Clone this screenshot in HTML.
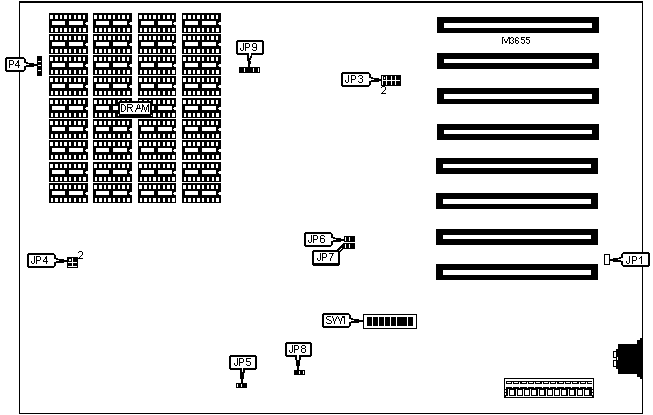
<!DOCTYPE html>
<html><head><meta charset="utf-8"><style>
html,body{margin:0;padding:0;background:#fff;width:653px;height:415px;overflow:hidden}
svg{display:block}
</style></head><body>
<svg width="653" height="415" viewBox="0 0 653 415" shape-rendering="crispEdges">
<rect x="19" y="1" width="624" height="2" fill="#000"/>
<rect x="19" y="1" width="1" height="413" fill="#000"/>
<rect x="642" y="1" width="1" height="413" fill="#000"/>
<rect x="19" y="413" width="624" height="1" fill="#000"/>
<rect x="437" y="17" width="162" height="16" fill="#000"/>
<rect x="444" y="23" width="148" height="5" fill="#fff"/>
<rect x="437" y="53" width="162" height="16" fill="#000"/>
<rect x="444" y="59" width="148" height="4" fill="#fff"/>
<rect x="437" y="88" width="162" height="16" fill="#000"/>
<rect x="444" y="94" width="148" height="5" fill="#fff"/>
<rect x="437" y="124" width="162" height="16" fill="#000"/>
<rect x="444" y="130" width="148" height="4" fill="#fff"/>
<rect x="436" y="158" width="162" height="16" fill="#000"/>
<rect x="443" y="164" width="148" height="4" fill="#fff"/>
<rect x="436" y="193" width="162" height="16" fill="#000"/>
<rect x="443" y="199" width="148" height="5" fill="#fff"/>
<rect x="436" y="229" width="162" height="16" fill="#000"/>
<rect x="443" y="235" width="148" height="4" fill="#fff"/>
<rect x="436" y="264" width="162" height="16" fill="#000"/>
<rect x="443" y="270" width="148" height="5" fill="#fff"/>
<rect x="49" y="13" width="39" height="20" fill="#000"/>
<rect x="50" y="15" width="3" height="4" fill="#fff"/>
<rect x="55" y="15" width="3" height="4" fill="#fff"/>
<rect x="60" y="15" width="2" height="4" fill="#fff"/>
<rect x="64" y="15" width="3" height="4" fill="#fff"/>
<rect x="69" y="15" width="2" height="4" fill="#fff"/>
<rect x="74" y="15" width="2" height="4" fill="#fff"/>
<rect x="78" y="15" width="3" height="4" fill="#fff"/>
<rect x="83" y="15" width="2" height="4" fill="#fff"/>
<rect x="51" y="28" width="2" height="4" fill="#fff"/>
<rect x="55" y="28" width="3" height="4" fill="#fff"/>
<rect x="60" y="28" width="2" height="4" fill="#fff"/>
<rect x="64" y="28" width="3" height="4" fill="#fff"/>
<rect x="69" y="28" width="2" height="4" fill="#fff"/>
<rect x="74" y="28" width="2" height="4" fill="#fff"/>
<rect x="79" y="28" width="2" height="4" fill="#fff"/>
<rect x="83" y="28" width="3" height="4" fill="#fff"/>
<rect x="52" y="21" width="13" height="4" fill="#fff"/>
<rect x="69" y="21" width="14" height="4" fill="#fff"/>
<rect x="86" y="22" width="2" height="3" fill="#fff"/>
<rect x="85" y="23" width="1" height="1" fill="#fff"/>
<rect x="49" y="34" width="39" height="20" fill="#000"/>
<rect x="50" y="36" width="3" height="4" fill="#fff"/>
<rect x="55" y="36" width="3" height="4" fill="#fff"/>
<rect x="60" y="36" width="2" height="4" fill="#fff"/>
<rect x="64" y="36" width="3" height="4" fill="#fff"/>
<rect x="69" y="36" width="2" height="4" fill="#fff"/>
<rect x="74" y="36" width="2" height="4" fill="#fff"/>
<rect x="78" y="36" width="3" height="4" fill="#fff"/>
<rect x="83" y="36" width="2" height="4" fill="#fff"/>
<rect x="51" y="49" width="2" height="4" fill="#fff"/>
<rect x="55" y="49" width="3" height="4" fill="#fff"/>
<rect x="60" y="49" width="2" height="4" fill="#fff"/>
<rect x="64" y="49" width="3" height="4" fill="#fff"/>
<rect x="69" y="49" width="2" height="4" fill="#fff"/>
<rect x="74" y="49" width="2" height="4" fill="#fff"/>
<rect x="79" y="49" width="2" height="4" fill="#fff"/>
<rect x="83" y="49" width="3" height="4" fill="#fff"/>
<rect x="52" y="42" width="13" height="4" fill="#fff"/>
<rect x="69" y="42" width="14" height="4" fill="#fff"/>
<rect x="86" y="43" width="2" height="3" fill="#fff"/>
<rect x="85" y="44" width="1" height="1" fill="#fff"/>
<rect x="49" y="55" width="39" height="20" fill="#000"/>
<rect x="50" y="57" width="3" height="4" fill="#fff"/>
<rect x="55" y="57" width="3" height="4" fill="#fff"/>
<rect x="60" y="57" width="2" height="4" fill="#fff"/>
<rect x="64" y="57" width="3" height="4" fill="#fff"/>
<rect x="69" y="57" width="2" height="4" fill="#fff"/>
<rect x="74" y="57" width="2" height="4" fill="#fff"/>
<rect x="78" y="57" width="3" height="4" fill="#fff"/>
<rect x="83" y="57" width="2" height="4" fill="#fff"/>
<rect x="51" y="70" width="2" height="4" fill="#fff"/>
<rect x="55" y="70" width="3" height="4" fill="#fff"/>
<rect x="60" y="70" width="2" height="4" fill="#fff"/>
<rect x="64" y="70" width="3" height="4" fill="#fff"/>
<rect x="69" y="70" width="2" height="4" fill="#fff"/>
<rect x="74" y="70" width="2" height="4" fill="#fff"/>
<rect x="79" y="70" width="2" height="4" fill="#fff"/>
<rect x="83" y="70" width="3" height="4" fill="#fff"/>
<rect x="52" y="63" width="13" height="4" fill="#fff"/>
<rect x="69" y="63" width="14" height="4" fill="#fff"/>
<rect x="86" y="64" width="2" height="3" fill="#fff"/>
<rect x="85" y="65" width="1" height="1" fill="#fff"/>
<rect x="49" y="76" width="39" height="20" fill="#000"/>
<rect x="50" y="78" width="3" height="4" fill="#fff"/>
<rect x="55" y="78" width="3" height="4" fill="#fff"/>
<rect x="60" y="78" width="2" height="4" fill="#fff"/>
<rect x="64" y="78" width="3" height="4" fill="#fff"/>
<rect x="69" y="78" width="2" height="4" fill="#fff"/>
<rect x="74" y="78" width="2" height="4" fill="#fff"/>
<rect x="78" y="78" width="3" height="4" fill="#fff"/>
<rect x="83" y="78" width="2" height="4" fill="#fff"/>
<rect x="51" y="91" width="2" height="4" fill="#fff"/>
<rect x="55" y="91" width="3" height="4" fill="#fff"/>
<rect x="60" y="91" width="2" height="4" fill="#fff"/>
<rect x="64" y="91" width="3" height="4" fill="#fff"/>
<rect x="69" y="91" width="2" height="4" fill="#fff"/>
<rect x="74" y="91" width="2" height="4" fill="#fff"/>
<rect x="79" y="91" width="2" height="4" fill="#fff"/>
<rect x="83" y="91" width="3" height="4" fill="#fff"/>
<rect x="52" y="84" width="13" height="4" fill="#fff"/>
<rect x="69" y="84" width="14" height="4" fill="#fff"/>
<rect x="86" y="85" width="2" height="3" fill="#fff"/>
<rect x="85" y="86" width="1" height="1" fill="#fff"/>
<rect x="49" y="98" width="39" height="20" fill="#000"/>
<rect x="50" y="100" width="3" height="4" fill="#fff"/>
<rect x="55" y="100" width="3" height="4" fill="#fff"/>
<rect x="60" y="100" width="2" height="4" fill="#fff"/>
<rect x="64" y="100" width="3" height="4" fill="#fff"/>
<rect x="69" y="100" width="2" height="4" fill="#fff"/>
<rect x="74" y="100" width="2" height="4" fill="#fff"/>
<rect x="78" y="100" width="3" height="4" fill="#fff"/>
<rect x="83" y="100" width="2" height="4" fill="#fff"/>
<rect x="51" y="113" width="2" height="4" fill="#fff"/>
<rect x="55" y="113" width="3" height="4" fill="#fff"/>
<rect x="60" y="113" width="2" height="4" fill="#fff"/>
<rect x="64" y="113" width="3" height="4" fill="#fff"/>
<rect x="69" y="113" width="2" height="4" fill="#fff"/>
<rect x="74" y="113" width="2" height="4" fill="#fff"/>
<rect x="79" y="113" width="2" height="4" fill="#fff"/>
<rect x="83" y="113" width="3" height="4" fill="#fff"/>
<rect x="52" y="106" width="13" height="4" fill="#fff"/>
<rect x="69" y="106" width="14" height="4" fill="#fff"/>
<rect x="86" y="107" width="2" height="3" fill="#fff"/>
<rect x="85" y="108" width="1" height="1" fill="#fff"/>
<rect x="49" y="119" width="39" height="20" fill="#000"/>
<rect x="50" y="121" width="3" height="4" fill="#fff"/>
<rect x="55" y="121" width="3" height="4" fill="#fff"/>
<rect x="60" y="121" width="2" height="4" fill="#fff"/>
<rect x="64" y="121" width="3" height="4" fill="#fff"/>
<rect x="69" y="121" width="2" height="4" fill="#fff"/>
<rect x="74" y="121" width="2" height="4" fill="#fff"/>
<rect x="78" y="121" width="3" height="4" fill="#fff"/>
<rect x="83" y="121" width="2" height="4" fill="#fff"/>
<rect x="51" y="134" width="2" height="4" fill="#fff"/>
<rect x="55" y="134" width="3" height="4" fill="#fff"/>
<rect x="60" y="134" width="2" height="4" fill="#fff"/>
<rect x="64" y="134" width="3" height="4" fill="#fff"/>
<rect x="69" y="134" width="2" height="4" fill="#fff"/>
<rect x="74" y="134" width="2" height="4" fill="#fff"/>
<rect x="79" y="134" width="2" height="4" fill="#fff"/>
<rect x="83" y="134" width="3" height="4" fill="#fff"/>
<rect x="52" y="127" width="13" height="4" fill="#fff"/>
<rect x="69" y="127" width="14" height="4" fill="#fff"/>
<rect x="86" y="128" width="2" height="3" fill="#fff"/>
<rect x="85" y="129" width="1" height="1" fill="#fff"/>
<rect x="49" y="140" width="39" height="20" fill="#000"/>
<rect x="50" y="142" width="3" height="4" fill="#fff"/>
<rect x="55" y="142" width="3" height="4" fill="#fff"/>
<rect x="60" y="142" width="2" height="4" fill="#fff"/>
<rect x="64" y="142" width="3" height="4" fill="#fff"/>
<rect x="69" y="142" width="2" height="4" fill="#fff"/>
<rect x="74" y="142" width="2" height="4" fill="#fff"/>
<rect x="78" y="142" width="3" height="4" fill="#fff"/>
<rect x="83" y="142" width="2" height="4" fill="#fff"/>
<rect x="51" y="155" width="2" height="4" fill="#fff"/>
<rect x="55" y="155" width="3" height="4" fill="#fff"/>
<rect x="60" y="155" width="2" height="4" fill="#fff"/>
<rect x="64" y="155" width="3" height="4" fill="#fff"/>
<rect x="69" y="155" width="2" height="4" fill="#fff"/>
<rect x="74" y="155" width="2" height="4" fill="#fff"/>
<rect x="79" y="155" width="2" height="4" fill="#fff"/>
<rect x="83" y="155" width="3" height="4" fill="#fff"/>
<rect x="52" y="148" width="13" height="4" fill="#fff"/>
<rect x="69" y="148" width="14" height="4" fill="#fff"/>
<rect x="86" y="149" width="2" height="3" fill="#fff"/>
<rect x="85" y="150" width="1" height="1" fill="#fff"/>
<rect x="49" y="162" width="39" height="20" fill="#000"/>
<rect x="50" y="164" width="3" height="4" fill="#fff"/>
<rect x="55" y="164" width="3" height="4" fill="#fff"/>
<rect x="60" y="164" width="2" height="4" fill="#fff"/>
<rect x="64" y="164" width="3" height="4" fill="#fff"/>
<rect x="69" y="164" width="2" height="4" fill="#fff"/>
<rect x="74" y="164" width="2" height="4" fill="#fff"/>
<rect x="78" y="164" width="3" height="4" fill="#fff"/>
<rect x="83" y="164" width="2" height="4" fill="#fff"/>
<rect x="51" y="177" width="2" height="4" fill="#fff"/>
<rect x="55" y="177" width="3" height="4" fill="#fff"/>
<rect x="60" y="177" width="2" height="4" fill="#fff"/>
<rect x="64" y="177" width="3" height="4" fill="#fff"/>
<rect x="69" y="177" width="2" height="4" fill="#fff"/>
<rect x="74" y="177" width="2" height="4" fill="#fff"/>
<rect x="79" y="177" width="2" height="4" fill="#fff"/>
<rect x="83" y="177" width="3" height="4" fill="#fff"/>
<rect x="52" y="170" width="13" height="4" fill="#fff"/>
<rect x="69" y="170" width="14" height="4" fill="#fff"/>
<rect x="86" y="171" width="2" height="3" fill="#fff"/>
<rect x="85" y="172" width="1" height="1" fill="#fff"/>
<rect x="49" y="183" width="39" height="20" fill="#000"/>
<rect x="50" y="185" width="3" height="4" fill="#fff"/>
<rect x="55" y="185" width="3" height="4" fill="#fff"/>
<rect x="60" y="185" width="2" height="4" fill="#fff"/>
<rect x="64" y="185" width="3" height="4" fill="#fff"/>
<rect x="69" y="185" width="2" height="4" fill="#fff"/>
<rect x="74" y="185" width="2" height="4" fill="#fff"/>
<rect x="78" y="185" width="3" height="4" fill="#fff"/>
<rect x="83" y="185" width="2" height="4" fill="#fff"/>
<rect x="51" y="198" width="2" height="4" fill="#fff"/>
<rect x="55" y="198" width="3" height="4" fill="#fff"/>
<rect x="60" y="198" width="2" height="4" fill="#fff"/>
<rect x="64" y="198" width="3" height="4" fill="#fff"/>
<rect x="69" y="198" width="2" height="4" fill="#fff"/>
<rect x="74" y="198" width="2" height="4" fill="#fff"/>
<rect x="79" y="198" width="2" height="4" fill="#fff"/>
<rect x="83" y="198" width="3" height="4" fill="#fff"/>
<rect x="52" y="191" width="13" height="4" fill="#fff"/>
<rect x="69" y="191" width="14" height="4" fill="#fff"/>
<rect x="86" y="192" width="2" height="3" fill="#fff"/>
<rect x="85" y="193" width="1" height="1" fill="#fff"/>
<rect x="93" y="13" width="39" height="20" fill="#000"/>
<rect x="94" y="15" width="3" height="4" fill="#fff"/>
<rect x="99" y="15" width="3" height="4" fill="#fff"/>
<rect x="104" y="15" width="2" height="4" fill="#fff"/>
<rect x="108" y="15" width="3" height="4" fill="#fff"/>
<rect x="113" y="15" width="2" height="4" fill="#fff"/>
<rect x="118" y="15" width="2" height="4" fill="#fff"/>
<rect x="122" y="15" width="3" height="4" fill="#fff"/>
<rect x="127" y="15" width="2" height="4" fill="#fff"/>
<rect x="95" y="28" width="2" height="4" fill="#fff"/>
<rect x="99" y="28" width="3" height="4" fill="#fff"/>
<rect x="104" y="28" width="2" height="4" fill="#fff"/>
<rect x="108" y="28" width="3" height="4" fill="#fff"/>
<rect x="113" y="28" width="2" height="4" fill="#fff"/>
<rect x="118" y="28" width="2" height="4" fill="#fff"/>
<rect x="123" y="28" width="2" height="4" fill="#fff"/>
<rect x="127" y="28" width="3" height="4" fill="#fff"/>
<rect x="96" y="21" width="13" height="4" fill="#fff"/>
<rect x="113" y="21" width="14" height="4" fill="#fff"/>
<rect x="130" y="22" width="2" height="3" fill="#fff"/>
<rect x="129" y="23" width="1" height="1" fill="#fff"/>
<rect x="93" y="34" width="39" height="20" fill="#000"/>
<rect x="94" y="36" width="3" height="4" fill="#fff"/>
<rect x="99" y="36" width="3" height="4" fill="#fff"/>
<rect x="104" y="36" width="2" height="4" fill="#fff"/>
<rect x="108" y="36" width="3" height="4" fill="#fff"/>
<rect x="113" y="36" width="2" height="4" fill="#fff"/>
<rect x="118" y="36" width="2" height="4" fill="#fff"/>
<rect x="122" y="36" width="3" height="4" fill="#fff"/>
<rect x="127" y="36" width="2" height="4" fill="#fff"/>
<rect x="95" y="49" width="2" height="4" fill="#fff"/>
<rect x="99" y="49" width="3" height="4" fill="#fff"/>
<rect x="104" y="49" width="2" height="4" fill="#fff"/>
<rect x="108" y="49" width="3" height="4" fill="#fff"/>
<rect x="113" y="49" width="2" height="4" fill="#fff"/>
<rect x="118" y="49" width="2" height="4" fill="#fff"/>
<rect x="123" y="49" width="2" height="4" fill="#fff"/>
<rect x="127" y="49" width="3" height="4" fill="#fff"/>
<rect x="96" y="42" width="13" height="4" fill="#fff"/>
<rect x="113" y="42" width="14" height="4" fill="#fff"/>
<rect x="130" y="43" width="2" height="3" fill="#fff"/>
<rect x="129" y="44" width="1" height="1" fill="#fff"/>
<rect x="93" y="55" width="39" height="20" fill="#000"/>
<rect x="94" y="57" width="3" height="4" fill="#fff"/>
<rect x="99" y="57" width="3" height="4" fill="#fff"/>
<rect x="104" y="57" width="2" height="4" fill="#fff"/>
<rect x="108" y="57" width="3" height="4" fill="#fff"/>
<rect x="113" y="57" width="2" height="4" fill="#fff"/>
<rect x="118" y="57" width="2" height="4" fill="#fff"/>
<rect x="122" y="57" width="3" height="4" fill="#fff"/>
<rect x="127" y="57" width="2" height="4" fill="#fff"/>
<rect x="95" y="70" width="2" height="4" fill="#fff"/>
<rect x="99" y="70" width="3" height="4" fill="#fff"/>
<rect x="104" y="70" width="2" height="4" fill="#fff"/>
<rect x="108" y="70" width="3" height="4" fill="#fff"/>
<rect x="113" y="70" width="2" height="4" fill="#fff"/>
<rect x="118" y="70" width="2" height="4" fill="#fff"/>
<rect x="123" y="70" width="2" height="4" fill="#fff"/>
<rect x="127" y="70" width="3" height="4" fill="#fff"/>
<rect x="96" y="63" width="13" height="4" fill="#fff"/>
<rect x="113" y="63" width="14" height="4" fill="#fff"/>
<rect x="130" y="64" width="2" height="3" fill="#fff"/>
<rect x="129" y="65" width="1" height="1" fill="#fff"/>
<rect x="93" y="76" width="39" height="20" fill="#000"/>
<rect x="94" y="78" width="3" height="4" fill="#fff"/>
<rect x="99" y="78" width="3" height="4" fill="#fff"/>
<rect x="104" y="78" width="2" height="4" fill="#fff"/>
<rect x="108" y="78" width="3" height="4" fill="#fff"/>
<rect x="113" y="78" width="2" height="4" fill="#fff"/>
<rect x="118" y="78" width="2" height="4" fill="#fff"/>
<rect x="122" y="78" width="3" height="4" fill="#fff"/>
<rect x="127" y="78" width="2" height="4" fill="#fff"/>
<rect x="95" y="91" width="2" height="4" fill="#fff"/>
<rect x="99" y="91" width="3" height="4" fill="#fff"/>
<rect x="104" y="91" width="2" height="4" fill="#fff"/>
<rect x="108" y="91" width="3" height="4" fill="#fff"/>
<rect x="113" y="91" width="2" height="4" fill="#fff"/>
<rect x="118" y="91" width="2" height="4" fill="#fff"/>
<rect x="123" y="91" width="2" height="4" fill="#fff"/>
<rect x="127" y="91" width="3" height="4" fill="#fff"/>
<rect x="96" y="84" width="13" height="4" fill="#fff"/>
<rect x="113" y="84" width="14" height="4" fill="#fff"/>
<rect x="130" y="85" width="2" height="3" fill="#fff"/>
<rect x="129" y="86" width="1" height="1" fill="#fff"/>
<rect x="93" y="98" width="39" height="20" fill="#000"/>
<rect x="94" y="100" width="3" height="4" fill="#fff"/>
<rect x="99" y="100" width="3" height="4" fill="#fff"/>
<rect x="104" y="100" width="2" height="4" fill="#fff"/>
<rect x="108" y="100" width="3" height="4" fill="#fff"/>
<rect x="113" y="100" width="2" height="4" fill="#fff"/>
<rect x="118" y="100" width="2" height="4" fill="#fff"/>
<rect x="122" y="100" width="3" height="4" fill="#fff"/>
<rect x="127" y="100" width="2" height="4" fill="#fff"/>
<rect x="95" y="113" width="2" height="4" fill="#fff"/>
<rect x="99" y="113" width="3" height="4" fill="#fff"/>
<rect x="104" y="113" width="2" height="4" fill="#fff"/>
<rect x="108" y="113" width="3" height="4" fill="#fff"/>
<rect x="113" y="113" width="2" height="4" fill="#fff"/>
<rect x="118" y="113" width="2" height="4" fill="#fff"/>
<rect x="123" y="113" width="2" height="4" fill="#fff"/>
<rect x="127" y="113" width="3" height="4" fill="#fff"/>
<rect x="96" y="106" width="13" height="4" fill="#fff"/>
<rect x="113" y="106" width="14" height="4" fill="#fff"/>
<rect x="130" y="107" width="2" height="3" fill="#fff"/>
<rect x="129" y="108" width="1" height="1" fill="#fff"/>
<rect x="93" y="119" width="39" height="20" fill="#000"/>
<rect x="94" y="121" width="3" height="4" fill="#fff"/>
<rect x="99" y="121" width="3" height="4" fill="#fff"/>
<rect x="104" y="121" width="2" height="4" fill="#fff"/>
<rect x="108" y="121" width="3" height="4" fill="#fff"/>
<rect x="113" y="121" width="2" height="4" fill="#fff"/>
<rect x="118" y="121" width="2" height="4" fill="#fff"/>
<rect x="122" y="121" width="3" height="4" fill="#fff"/>
<rect x="127" y="121" width="2" height="4" fill="#fff"/>
<rect x="95" y="134" width="2" height="4" fill="#fff"/>
<rect x="99" y="134" width="3" height="4" fill="#fff"/>
<rect x="104" y="134" width="2" height="4" fill="#fff"/>
<rect x="108" y="134" width="3" height="4" fill="#fff"/>
<rect x="113" y="134" width="2" height="4" fill="#fff"/>
<rect x="118" y="134" width="2" height="4" fill="#fff"/>
<rect x="123" y="134" width="2" height="4" fill="#fff"/>
<rect x="127" y="134" width="3" height="4" fill="#fff"/>
<rect x="96" y="127" width="13" height="4" fill="#fff"/>
<rect x="113" y="127" width="14" height="4" fill="#fff"/>
<rect x="130" y="128" width="2" height="3" fill="#fff"/>
<rect x="129" y="129" width="1" height="1" fill="#fff"/>
<rect x="93" y="140" width="39" height="20" fill="#000"/>
<rect x="94" y="142" width="3" height="4" fill="#fff"/>
<rect x="99" y="142" width="3" height="4" fill="#fff"/>
<rect x="104" y="142" width="2" height="4" fill="#fff"/>
<rect x="108" y="142" width="3" height="4" fill="#fff"/>
<rect x="113" y="142" width="2" height="4" fill="#fff"/>
<rect x="118" y="142" width="2" height="4" fill="#fff"/>
<rect x="122" y="142" width="3" height="4" fill="#fff"/>
<rect x="127" y="142" width="2" height="4" fill="#fff"/>
<rect x="95" y="155" width="2" height="4" fill="#fff"/>
<rect x="99" y="155" width="3" height="4" fill="#fff"/>
<rect x="104" y="155" width="2" height="4" fill="#fff"/>
<rect x="108" y="155" width="3" height="4" fill="#fff"/>
<rect x="113" y="155" width="2" height="4" fill="#fff"/>
<rect x="118" y="155" width="2" height="4" fill="#fff"/>
<rect x="123" y="155" width="2" height="4" fill="#fff"/>
<rect x="127" y="155" width="3" height="4" fill="#fff"/>
<rect x="96" y="148" width="13" height="4" fill="#fff"/>
<rect x="113" y="148" width="14" height="4" fill="#fff"/>
<rect x="130" y="149" width="2" height="3" fill="#fff"/>
<rect x="129" y="150" width="1" height="1" fill="#fff"/>
<rect x="93" y="162" width="39" height="20" fill="#000"/>
<rect x="94" y="164" width="3" height="4" fill="#fff"/>
<rect x="99" y="164" width="3" height="4" fill="#fff"/>
<rect x="104" y="164" width="2" height="4" fill="#fff"/>
<rect x="108" y="164" width="3" height="4" fill="#fff"/>
<rect x="113" y="164" width="2" height="4" fill="#fff"/>
<rect x="118" y="164" width="2" height="4" fill="#fff"/>
<rect x="122" y="164" width="3" height="4" fill="#fff"/>
<rect x="127" y="164" width="2" height="4" fill="#fff"/>
<rect x="95" y="177" width="2" height="4" fill="#fff"/>
<rect x="99" y="177" width="3" height="4" fill="#fff"/>
<rect x="104" y="177" width="2" height="4" fill="#fff"/>
<rect x="108" y="177" width="3" height="4" fill="#fff"/>
<rect x="113" y="177" width="2" height="4" fill="#fff"/>
<rect x="118" y="177" width="2" height="4" fill="#fff"/>
<rect x="123" y="177" width="2" height="4" fill="#fff"/>
<rect x="127" y="177" width="3" height="4" fill="#fff"/>
<rect x="96" y="170" width="13" height="4" fill="#fff"/>
<rect x="113" y="170" width="14" height="4" fill="#fff"/>
<rect x="130" y="171" width="2" height="3" fill="#fff"/>
<rect x="129" y="172" width="1" height="1" fill="#fff"/>
<rect x="93" y="183" width="39" height="20" fill="#000"/>
<rect x="94" y="185" width="3" height="4" fill="#fff"/>
<rect x="99" y="185" width="3" height="4" fill="#fff"/>
<rect x="104" y="185" width="2" height="4" fill="#fff"/>
<rect x="108" y="185" width="3" height="4" fill="#fff"/>
<rect x="113" y="185" width="2" height="4" fill="#fff"/>
<rect x="118" y="185" width="2" height="4" fill="#fff"/>
<rect x="122" y="185" width="3" height="4" fill="#fff"/>
<rect x="127" y="185" width="2" height="4" fill="#fff"/>
<rect x="95" y="198" width="2" height="4" fill="#fff"/>
<rect x="99" y="198" width="3" height="4" fill="#fff"/>
<rect x="104" y="198" width="2" height="4" fill="#fff"/>
<rect x="108" y="198" width="3" height="4" fill="#fff"/>
<rect x="113" y="198" width="2" height="4" fill="#fff"/>
<rect x="118" y="198" width="2" height="4" fill="#fff"/>
<rect x="123" y="198" width="2" height="4" fill="#fff"/>
<rect x="127" y="198" width="3" height="4" fill="#fff"/>
<rect x="96" y="191" width="13" height="4" fill="#fff"/>
<rect x="113" y="191" width="14" height="4" fill="#fff"/>
<rect x="130" y="192" width="2" height="3" fill="#fff"/>
<rect x="129" y="193" width="1" height="1" fill="#fff"/>
<rect x="138" y="13" width="38" height="20" fill="#000"/>
<rect x="139" y="15" width="3" height="4" fill="#fff"/>
<rect x="144" y="15" width="3" height="4" fill="#fff"/>
<rect x="149" y="15" width="2" height="4" fill="#fff"/>
<rect x="153" y="15" width="3" height="4" fill="#fff"/>
<rect x="158" y="15" width="2" height="4" fill="#fff"/>
<rect x="163" y="15" width="2" height="4" fill="#fff"/>
<rect x="167" y="15" width="3" height="4" fill="#fff"/>
<rect x="172" y="15" width="2" height="4" fill="#fff"/>
<rect x="140" y="28" width="2" height="4" fill="#fff"/>
<rect x="144" y="28" width="3" height="4" fill="#fff"/>
<rect x="149" y="28" width="2" height="4" fill="#fff"/>
<rect x="153" y="28" width="3" height="4" fill="#fff"/>
<rect x="158" y="28" width="2" height="4" fill="#fff"/>
<rect x="163" y="28" width="2" height="4" fill="#fff"/>
<rect x="168" y="28" width="2" height="4" fill="#fff"/>
<rect x="172" y="28" width="3" height="4" fill="#fff"/>
<rect x="141" y="21" width="13" height="4" fill="#fff"/>
<rect x="158" y="21" width="14" height="4" fill="#fff"/>
<rect x="174" y="22" width="2" height="3" fill="#fff"/>
<rect x="173" y="23" width="1" height="1" fill="#fff"/>
<rect x="138" y="34" width="38" height="20" fill="#000"/>
<rect x="139" y="36" width="3" height="4" fill="#fff"/>
<rect x="144" y="36" width="3" height="4" fill="#fff"/>
<rect x="149" y="36" width="2" height="4" fill="#fff"/>
<rect x="153" y="36" width="3" height="4" fill="#fff"/>
<rect x="158" y="36" width="2" height="4" fill="#fff"/>
<rect x="163" y="36" width="2" height="4" fill="#fff"/>
<rect x="167" y="36" width="3" height="4" fill="#fff"/>
<rect x="172" y="36" width="2" height="4" fill="#fff"/>
<rect x="140" y="49" width="2" height="4" fill="#fff"/>
<rect x="144" y="49" width="3" height="4" fill="#fff"/>
<rect x="149" y="49" width="2" height="4" fill="#fff"/>
<rect x="153" y="49" width="3" height="4" fill="#fff"/>
<rect x="158" y="49" width="2" height="4" fill="#fff"/>
<rect x="163" y="49" width="2" height="4" fill="#fff"/>
<rect x="168" y="49" width="2" height="4" fill="#fff"/>
<rect x="172" y="49" width="3" height="4" fill="#fff"/>
<rect x="141" y="42" width="13" height="4" fill="#fff"/>
<rect x="158" y="42" width="14" height="4" fill="#fff"/>
<rect x="174" y="43" width="2" height="3" fill="#fff"/>
<rect x="173" y="44" width="1" height="1" fill="#fff"/>
<rect x="138" y="55" width="38" height="20" fill="#000"/>
<rect x="139" y="57" width="3" height="4" fill="#fff"/>
<rect x="144" y="57" width="3" height="4" fill="#fff"/>
<rect x="149" y="57" width="2" height="4" fill="#fff"/>
<rect x="153" y="57" width="3" height="4" fill="#fff"/>
<rect x="158" y="57" width="2" height="4" fill="#fff"/>
<rect x="163" y="57" width="2" height="4" fill="#fff"/>
<rect x="167" y="57" width="3" height="4" fill="#fff"/>
<rect x="172" y="57" width="2" height="4" fill="#fff"/>
<rect x="140" y="70" width="2" height="4" fill="#fff"/>
<rect x="144" y="70" width="3" height="4" fill="#fff"/>
<rect x="149" y="70" width="2" height="4" fill="#fff"/>
<rect x="153" y="70" width="3" height="4" fill="#fff"/>
<rect x="158" y="70" width="2" height="4" fill="#fff"/>
<rect x="163" y="70" width="2" height="4" fill="#fff"/>
<rect x="168" y="70" width="2" height="4" fill="#fff"/>
<rect x="172" y="70" width="3" height="4" fill="#fff"/>
<rect x="141" y="63" width="13" height="4" fill="#fff"/>
<rect x="158" y="63" width="14" height="4" fill="#fff"/>
<rect x="174" y="64" width="2" height="3" fill="#fff"/>
<rect x="173" y="65" width="1" height="1" fill="#fff"/>
<rect x="138" y="76" width="38" height="20" fill="#000"/>
<rect x="139" y="78" width="3" height="4" fill="#fff"/>
<rect x="144" y="78" width="3" height="4" fill="#fff"/>
<rect x="149" y="78" width="2" height="4" fill="#fff"/>
<rect x="153" y="78" width="3" height="4" fill="#fff"/>
<rect x="158" y="78" width="2" height="4" fill="#fff"/>
<rect x="163" y="78" width="2" height="4" fill="#fff"/>
<rect x="167" y="78" width="3" height="4" fill="#fff"/>
<rect x="172" y="78" width="2" height="4" fill="#fff"/>
<rect x="140" y="91" width="2" height="4" fill="#fff"/>
<rect x="144" y="91" width="3" height="4" fill="#fff"/>
<rect x="149" y="91" width="2" height="4" fill="#fff"/>
<rect x="153" y="91" width="3" height="4" fill="#fff"/>
<rect x="158" y="91" width="2" height="4" fill="#fff"/>
<rect x="163" y="91" width="2" height="4" fill="#fff"/>
<rect x="168" y="91" width="2" height="4" fill="#fff"/>
<rect x="172" y="91" width="3" height="4" fill="#fff"/>
<rect x="141" y="84" width="13" height="4" fill="#fff"/>
<rect x="158" y="84" width="14" height="4" fill="#fff"/>
<rect x="174" y="85" width="2" height="3" fill="#fff"/>
<rect x="173" y="86" width="1" height="1" fill="#fff"/>
<rect x="138" y="98" width="38" height="20" fill="#000"/>
<rect x="139" y="100" width="3" height="4" fill="#fff"/>
<rect x="144" y="100" width="3" height="4" fill="#fff"/>
<rect x="149" y="100" width="2" height="4" fill="#fff"/>
<rect x="153" y="100" width="3" height="4" fill="#fff"/>
<rect x="158" y="100" width="2" height="4" fill="#fff"/>
<rect x="163" y="100" width="2" height="4" fill="#fff"/>
<rect x="167" y="100" width="3" height="4" fill="#fff"/>
<rect x="172" y="100" width="2" height="4" fill="#fff"/>
<rect x="140" y="113" width="2" height="4" fill="#fff"/>
<rect x="144" y="113" width="3" height="4" fill="#fff"/>
<rect x="149" y="113" width="2" height="4" fill="#fff"/>
<rect x="153" y="113" width="3" height="4" fill="#fff"/>
<rect x="158" y="113" width="2" height="4" fill="#fff"/>
<rect x="163" y="113" width="2" height="4" fill="#fff"/>
<rect x="168" y="113" width="2" height="4" fill="#fff"/>
<rect x="172" y="113" width="3" height="4" fill="#fff"/>
<rect x="141" y="106" width="13" height="4" fill="#fff"/>
<rect x="158" y="106" width="14" height="4" fill="#fff"/>
<rect x="174" y="107" width="2" height="3" fill="#fff"/>
<rect x="173" y="108" width="1" height="1" fill="#fff"/>
<rect x="138" y="119" width="38" height="20" fill="#000"/>
<rect x="139" y="121" width="3" height="4" fill="#fff"/>
<rect x="144" y="121" width="3" height="4" fill="#fff"/>
<rect x="149" y="121" width="2" height="4" fill="#fff"/>
<rect x="153" y="121" width="3" height="4" fill="#fff"/>
<rect x="158" y="121" width="2" height="4" fill="#fff"/>
<rect x="163" y="121" width="2" height="4" fill="#fff"/>
<rect x="167" y="121" width="3" height="4" fill="#fff"/>
<rect x="172" y="121" width="2" height="4" fill="#fff"/>
<rect x="140" y="134" width="2" height="4" fill="#fff"/>
<rect x="144" y="134" width="3" height="4" fill="#fff"/>
<rect x="149" y="134" width="2" height="4" fill="#fff"/>
<rect x="153" y="134" width="3" height="4" fill="#fff"/>
<rect x="158" y="134" width="2" height="4" fill="#fff"/>
<rect x="163" y="134" width="2" height="4" fill="#fff"/>
<rect x="168" y="134" width="2" height="4" fill="#fff"/>
<rect x="172" y="134" width="3" height="4" fill="#fff"/>
<rect x="141" y="127" width="13" height="4" fill="#fff"/>
<rect x="158" y="127" width="14" height="4" fill="#fff"/>
<rect x="174" y="128" width="2" height="3" fill="#fff"/>
<rect x="173" y="129" width="1" height="1" fill="#fff"/>
<rect x="138" y="140" width="38" height="20" fill="#000"/>
<rect x="139" y="142" width="3" height="4" fill="#fff"/>
<rect x="144" y="142" width="3" height="4" fill="#fff"/>
<rect x="149" y="142" width="2" height="4" fill="#fff"/>
<rect x="153" y="142" width="3" height="4" fill="#fff"/>
<rect x="158" y="142" width="2" height="4" fill="#fff"/>
<rect x="163" y="142" width="2" height="4" fill="#fff"/>
<rect x="167" y="142" width="3" height="4" fill="#fff"/>
<rect x="172" y="142" width="2" height="4" fill="#fff"/>
<rect x="140" y="155" width="2" height="4" fill="#fff"/>
<rect x="144" y="155" width="3" height="4" fill="#fff"/>
<rect x="149" y="155" width="2" height="4" fill="#fff"/>
<rect x="153" y="155" width="3" height="4" fill="#fff"/>
<rect x="158" y="155" width="2" height="4" fill="#fff"/>
<rect x="163" y="155" width="2" height="4" fill="#fff"/>
<rect x="168" y="155" width="2" height="4" fill="#fff"/>
<rect x="172" y="155" width="3" height="4" fill="#fff"/>
<rect x="141" y="148" width="13" height="4" fill="#fff"/>
<rect x="158" y="148" width="14" height="4" fill="#fff"/>
<rect x="174" y="149" width="2" height="3" fill="#fff"/>
<rect x="173" y="150" width="1" height="1" fill="#fff"/>
<rect x="138" y="162" width="38" height="20" fill="#000"/>
<rect x="139" y="164" width="3" height="4" fill="#fff"/>
<rect x="144" y="164" width="3" height="4" fill="#fff"/>
<rect x="149" y="164" width="2" height="4" fill="#fff"/>
<rect x="153" y="164" width="3" height="4" fill="#fff"/>
<rect x="158" y="164" width="2" height="4" fill="#fff"/>
<rect x="163" y="164" width="2" height="4" fill="#fff"/>
<rect x="167" y="164" width="3" height="4" fill="#fff"/>
<rect x="172" y="164" width="2" height="4" fill="#fff"/>
<rect x="140" y="177" width="2" height="4" fill="#fff"/>
<rect x="144" y="177" width="3" height="4" fill="#fff"/>
<rect x="149" y="177" width="2" height="4" fill="#fff"/>
<rect x="153" y="177" width="3" height="4" fill="#fff"/>
<rect x="158" y="177" width="2" height="4" fill="#fff"/>
<rect x="163" y="177" width="2" height="4" fill="#fff"/>
<rect x="168" y="177" width="2" height="4" fill="#fff"/>
<rect x="172" y="177" width="3" height="4" fill="#fff"/>
<rect x="141" y="170" width="13" height="4" fill="#fff"/>
<rect x="158" y="170" width="14" height="4" fill="#fff"/>
<rect x="174" y="171" width="2" height="3" fill="#fff"/>
<rect x="173" y="172" width="1" height="1" fill="#fff"/>
<rect x="138" y="183" width="38" height="20" fill="#000"/>
<rect x="139" y="185" width="3" height="4" fill="#fff"/>
<rect x="144" y="185" width="3" height="4" fill="#fff"/>
<rect x="149" y="185" width="2" height="4" fill="#fff"/>
<rect x="153" y="185" width="3" height="4" fill="#fff"/>
<rect x="158" y="185" width="2" height="4" fill="#fff"/>
<rect x="163" y="185" width="2" height="4" fill="#fff"/>
<rect x="167" y="185" width="3" height="4" fill="#fff"/>
<rect x="172" y="185" width="2" height="4" fill="#fff"/>
<rect x="140" y="198" width="2" height="4" fill="#fff"/>
<rect x="144" y="198" width="3" height="4" fill="#fff"/>
<rect x="149" y="198" width="2" height="4" fill="#fff"/>
<rect x="153" y="198" width="3" height="4" fill="#fff"/>
<rect x="158" y="198" width="2" height="4" fill="#fff"/>
<rect x="163" y="198" width="2" height="4" fill="#fff"/>
<rect x="168" y="198" width="2" height="4" fill="#fff"/>
<rect x="172" y="198" width="3" height="4" fill="#fff"/>
<rect x="141" y="191" width="13" height="4" fill="#fff"/>
<rect x="158" y="191" width="14" height="4" fill="#fff"/>
<rect x="174" y="192" width="2" height="3" fill="#fff"/>
<rect x="173" y="193" width="1" height="1" fill="#fff"/>
<rect x="182" y="13" width="39" height="20" fill="#000"/>
<rect x="183" y="15" width="3" height="4" fill="#fff"/>
<rect x="188" y="15" width="3" height="4" fill="#fff"/>
<rect x="193" y="15" width="2" height="4" fill="#fff"/>
<rect x="197" y="15" width="3" height="4" fill="#fff"/>
<rect x="202" y="15" width="2" height="4" fill="#fff"/>
<rect x="207" y="15" width="2" height="4" fill="#fff"/>
<rect x="211" y="15" width="3" height="4" fill="#fff"/>
<rect x="216" y="15" width="2" height="4" fill="#fff"/>
<rect x="184" y="28" width="2" height="4" fill="#fff"/>
<rect x="188" y="28" width="3" height="4" fill="#fff"/>
<rect x="193" y="28" width="2" height="4" fill="#fff"/>
<rect x="197" y="28" width="3" height="4" fill="#fff"/>
<rect x="202" y="28" width="2" height="4" fill="#fff"/>
<rect x="207" y="28" width="2" height="4" fill="#fff"/>
<rect x="212" y="28" width="2" height="4" fill="#fff"/>
<rect x="216" y="28" width="3" height="4" fill="#fff"/>
<rect x="185" y="21" width="13" height="4" fill="#fff"/>
<rect x="202" y="21" width="14" height="4" fill="#fff"/>
<rect x="219" y="22" width="2" height="3" fill="#fff"/>
<rect x="218" y="23" width="1" height="1" fill="#fff"/>
<rect x="182" y="34" width="39" height="20" fill="#000"/>
<rect x="183" y="36" width="3" height="4" fill="#fff"/>
<rect x="188" y="36" width="3" height="4" fill="#fff"/>
<rect x="193" y="36" width="2" height="4" fill="#fff"/>
<rect x="197" y="36" width="3" height="4" fill="#fff"/>
<rect x="202" y="36" width="2" height="4" fill="#fff"/>
<rect x="207" y="36" width="2" height="4" fill="#fff"/>
<rect x="211" y="36" width="3" height="4" fill="#fff"/>
<rect x="216" y="36" width="2" height="4" fill="#fff"/>
<rect x="184" y="49" width="2" height="4" fill="#fff"/>
<rect x="188" y="49" width="3" height="4" fill="#fff"/>
<rect x="193" y="49" width="2" height="4" fill="#fff"/>
<rect x="197" y="49" width="3" height="4" fill="#fff"/>
<rect x="202" y="49" width="2" height="4" fill="#fff"/>
<rect x="207" y="49" width="2" height="4" fill="#fff"/>
<rect x="212" y="49" width="2" height="4" fill="#fff"/>
<rect x="216" y="49" width="3" height="4" fill="#fff"/>
<rect x="185" y="42" width="13" height="4" fill="#fff"/>
<rect x="202" y="42" width="14" height="4" fill="#fff"/>
<rect x="219" y="43" width="2" height="3" fill="#fff"/>
<rect x="218" y="44" width="1" height="1" fill="#fff"/>
<rect x="182" y="55" width="39" height="20" fill="#000"/>
<rect x="183" y="57" width="3" height="4" fill="#fff"/>
<rect x="188" y="57" width="3" height="4" fill="#fff"/>
<rect x="193" y="57" width="2" height="4" fill="#fff"/>
<rect x="197" y="57" width="3" height="4" fill="#fff"/>
<rect x="202" y="57" width="2" height="4" fill="#fff"/>
<rect x="207" y="57" width="2" height="4" fill="#fff"/>
<rect x="211" y="57" width="3" height="4" fill="#fff"/>
<rect x="216" y="57" width="2" height="4" fill="#fff"/>
<rect x="184" y="70" width="2" height="4" fill="#fff"/>
<rect x="188" y="70" width="3" height="4" fill="#fff"/>
<rect x="193" y="70" width="2" height="4" fill="#fff"/>
<rect x="197" y="70" width="3" height="4" fill="#fff"/>
<rect x="202" y="70" width="2" height="4" fill="#fff"/>
<rect x="207" y="70" width="2" height="4" fill="#fff"/>
<rect x="212" y="70" width="2" height="4" fill="#fff"/>
<rect x="216" y="70" width="3" height="4" fill="#fff"/>
<rect x="185" y="63" width="13" height="4" fill="#fff"/>
<rect x="202" y="63" width="14" height="4" fill="#fff"/>
<rect x="219" y="64" width="2" height="3" fill="#fff"/>
<rect x="218" y="65" width="1" height="1" fill="#fff"/>
<rect x="182" y="76" width="39" height="20" fill="#000"/>
<rect x="183" y="78" width="3" height="4" fill="#fff"/>
<rect x="188" y="78" width="3" height="4" fill="#fff"/>
<rect x="193" y="78" width="2" height="4" fill="#fff"/>
<rect x="197" y="78" width="3" height="4" fill="#fff"/>
<rect x="202" y="78" width="2" height="4" fill="#fff"/>
<rect x="207" y="78" width="2" height="4" fill="#fff"/>
<rect x="211" y="78" width="3" height="4" fill="#fff"/>
<rect x="216" y="78" width="2" height="4" fill="#fff"/>
<rect x="184" y="91" width="2" height="4" fill="#fff"/>
<rect x="188" y="91" width="3" height="4" fill="#fff"/>
<rect x="193" y="91" width="2" height="4" fill="#fff"/>
<rect x="197" y="91" width="3" height="4" fill="#fff"/>
<rect x="202" y="91" width="2" height="4" fill="#fff"/>
<rect x="207" y="91" width="2" height="4" fill="#fff"/>
<rect x="212" y="91" width="2" height="4" fill="#fff"/>
<rect x="216" y="91" width="3" height="4" fill="#fff"/>
<rect x="185" y="84" width="13" height="4" fill="#fff"/>
<rect x="202" y="84" width="14" height="4" fill="#fff"/>
<rect x="219" y="85" width="2" height="3" fill="#fff"/>
<rect x="218" y="86" width="1" height="1" fill="#fff"/>
<rect x="182" y="98" width="39" height="20" fill="#000"/>
<rect x="183" y="100" width="3" height="4" fill="#fff"/>
<rect x="188" y="100" width="3" height="4" fill="#fff"/>
<rect x="193" y="100" width="2" height="4" fill="#fff"/>
<rect x="197" y="100" width="3" height="4" fill="#fff"/>
<rect x="202" y="100" width="2" height="4" fill="#fff"/>
<rect x="207" y="100" width="2" height="4" fill="#fff"/>
<rect x="211" y="100" width="3" height="4" fill="#fff"/>
<rect x="216" y="100" width="2" height="4" fill="#fff"/>
<rect x="184" y="113" width="2" height="4" fill="#fff"/>
<rect x="188" y="113" width="3" height="4" fill="#fff"/>
<rect x="193" y="113" width="2" height="4" fill="#fff"/>
<rect x="197" y="113" width="3" height="4" fill="#fff"/>
<rect x="202" y="113" width="2" height="4" fill="#fff"/>
<rect x="207" y="113" width="2" height="4" fill="#fff"/>
<rect x="212" y="113" width="2" height="4" fill="#fff"/>
<rect x="216" y="113" width="3" height="4" fill="#fff"/>
<rect x="185" y="106" width="13" height="4" fill="#fff"/>
<rect x="202" y="106" width="14" height="4" fill="#fff"/>
<rect x="219" y="107" width="2" height="3" fill="#fff"/>
<rect x="218" y="108" width="1" height="1" fill="#fff"/>
<rect x="182" y="119" width="39" height="20" fill="#000"/>
<rect x="183" y="121" width="3" height="4" fill="#fff"/>
<rect x="188" y="121" width="3" height="4" fill="#fff"/>
<rect x="193" y="121" width="2" height="4" fill="#fff"/>
<rect x="197" y="121" width="3" height="4" fill="#fff"/>
<rect x="202" y="121" width="2" height="4" fill="#fff"/>
<rect x="207" y="121" width="2" height="4" fill="#fff"/>
<rect x="211" y="121" width="3" height="4" fill="#fff"/>
<rect x="216" y="121" width="2" height="4" fill="#fff"/>
<rect x="184" y="134" width="2" height="4" fill="#fff"/>
<rect x="188" y="134" width="3" height="4" fill="#fff"/>
<rect x="193" y="134" width="2" height="4" fill="#fff"/>
<rect x="197" y="134" width="3" height="4" fill="#fff"/>
<rect x="202" y="134" width="2" height="4" fill="#fff"/>
<rect x="207" y="134" width="2" height="4" fill="#fff"/>
<rect x="212" y="134" width="2" height="4" fill="#fff"/>
<rect x="216" y="134" width="3" height="4" fill="#fff"/>
<rect x="185" y="127" width="13" height="4" fill="#fff"/>
<rect x="202" y="127" width="14" height="4" fill="#fff"/>
<rect x="219" y="128" width="2" height="3" fill="#fff"/>
<rect x="218" y="129" width="1" height="1" fill="#fff"/>
<rect x="182" y="140" width="39" height="20" fill="#000"/>
<rect x="183" y="142" width="3" height="4" fill="#fff"/>
<rect x="188" y="142" width="3" height="4" fill="#fff"/>
<rect x="193" y="142" width="2" height="4" fill="#fff"/>
<rect x="197" y="142" width="3" height="4" fill="#fff"/>
<rect x="202" y="142" width="2" height="4" fill="#fff"/>
<rect x="207" y="142" width="2" height="4" fill="#fff"/>
<rect x="211" y="142" width="3" height="4" fill="#fff"/>
<rect x="216" y="142" width="2" height="4" fill="#fff"/>
<rect x="184" y="155" width="2" height="4" fill="#fff"/>
<rect x="188" y="155" width="3" height="4" fill="#fff"/>
<rect x="193" y="155" width="2" height="4" fill="#fff"/>
<rect x="197" y="155" width="3" height="4" fill="#fff"/>
<rect x="202" y="155" width="2" height="4" fill="#fff"/>
<rect x="207" y="155" width="2" height="4" fill="#fff"/>
<rect x="212" y="155" width="2" height="4" fill="#fff"/>
<rect x="216" y="155" width="3" height="4" fill="#fff"/>
<rect x="185" y="148" width="13" height="4" fill="#fff"/>
<rect x="202" y="148" width="14" height="4" fill="#fff"/>
<rect x="219" y="149" width="2" height="3" fill="#fff"/>
<rect x="218" y="150" width="1" height="1" fill="#fff"/>
<rect x="182" y="162" width="39" height="20" fill="#000"/>
<rect x="183" y="164" width="3" height="4" fill="#fff"/>
<rect x="188" y="164" width="3" height="4" fill="#fff"/>
<rect x="193" y="164" width="2" height="4" fill="#fff"/>
<rect x="197" y="164" width="3" height="4" fill="#fff"/>
<rect x="202" y="164" width="2" height="4" fill="#fff"/>
<rect x="207" y="164" width="2" height="4" fill="#fff"/>
<rect x="211" y="164" width="3" height="4" fill="#fff"/>
<rect x="216" y="164" width="2" height="4" fill="#fff"/>
<rect x="184" y="177" width="2" height="4" fill="#fff"/>
<rect x="188" y="177" width="3" height="4" fill="#fff"/>
<rect x="193" y="177" width="2" height="4" fill="#fff"/>
<rect x="197" y="177" width="3" height="4" fill="#fff"/>
<rect x="202" y="177" width="2" height="4" fill="#fff"/>
<rect x="207" y="177" width="2" height="4" fill="#fff"/>
<rect x="212" y="177" width="2" height="4" fill="#fff"/>
<rect x="216" y="177" width="3" height="4" fill="#fff"/>
<rect x="185" y="170" width="13" height="4" fill="#fff"/>
<rect x="202" y="170" width="14" height="4" fill="#fff"/>
<rect x="219" y="171" width="2" height="3" fill="#fff"/>
<rect x="218" y="172" width="1" height="1" fill="#fff"/>
<rect x="182" y="183" width="39" height="20" fill="#000"/>
<rect x="183" y="185" width="3" height="4" fill="#fff"/>
<rect x="188" y="185" width="3" height="4" fill="#fff"/>
<rect x="193" y="185" width="2" height="4" fill="#fff"/>
<rect x="197" y="185" width="3" height="4" fill="#fff"/>
<rect x="202" y="185" width="2" height="4" fill="#fff"/>
<rect x="207" y="185" width="2" height="4" fill="#fff"/>
<rect x="211" y="185" width="3" height="4" fill="#fff"/>
<rect x="216" y="185" width="2" height="4" fill="#fff"/>
<rect x="184" y="198" width="2" height="4" fill="#fff"/>
<rect x="188" y="198" width="3" height="4" fill="#fff"/>
<rect x="193" y="198" width="2" height="4" fill="#fff"/>
<rect x="197" y="198" width="3" height="4" fill="#fff"/>
<rect x="202" y="198" width="2" height="4" fill="#fff"/>
<rect x="207" y="198" width="2" height="4" fill="#fff"/>
<rect x="212" y="198" width="2" height="4" fill="#fff"/>
<rect x="216" y="198" width="3" height="4" fill="#fff"/>
<rect x="185" y="191" width="13" height="4" fill="#fff"/>
<rect x="202" y="191" width="14" height="4" fill="#fff"/>
<rect x="219" y="192" width="2" height="3" fill="#fff"/>
<rect x="218" y="193" width="1" height="1" fill="#fff"/>
<rect x="7" y="59" width="17" height="11" fill="#fff"/>
<rect x="6" y="57" width="18" height="1" fill="#000"/>
<rect x="5" y="58" width="19" height="1" fill="#000"/>
<rect x="5" y="70" width="19" height="1" fill="#000"/>
<rect x="6" y="71" width="18" height="1" fill="#000"/>
<rect x="5" y="58" width="2" height="13" fill="#000"/>
<rect x="24" y="58" width="1" height="5" fill="#000"/>
<rect x="25" y="59" width="1" height="4" fill="#000"/>
<rect x="26" y="62" width="2" height="2" fill="#000"/>
<rect x="24" y="66" width="1" height="5" fill="#000"/>
<rect x="25" y="66" width="1" height="4" fill="#000"/>
<rect x="26" y="65" width="2" height="2" fill="#000"/>
<rect x="28" y="63" width="6" height="4" fill="#000"/>
<rect x="34" y="64" width="3" height="2" fill="#000"/>
<rect x="24" y="64" width="5" height="1" fill="#fff"/>
<rect x="24" y="63" width="2" height="3" fill="#fff"/>
<rect x="37" y="56" width="5" height="20" fill="#000"/>
<rect x="38" y="61" width="3" height="1" fill="#fff"/>
<rect x="38" y="65" width="3" height="1" fill="#fff"/>
<rect x="38" y="70" width="3" height="1" fill="#fff"/>
<rect x="118" y="101" width="34" height="17" fill="#000"/>
<rect x="120" y="103" width="30" height="11" fill="#fff"/>
<rect x="118" y="101" width="1" height="1" fill="#fff"/>
<rect x="118" y="114" width="1" height="2" fill="#fff"/>
<rect x="151" y="115" width="1" height="1" fill="#fff"/>
<rect x="237" y="41" width="26" height="13" fill="#fff"/>
<rect x="237" y="40" width="26" height="1" fill="#000"/>
<rect x="236" y="41" width="28" height="1" fill="#000"/>
<rect x="236" y="41" width="2" height="13" fill="#000"/>
<rect x="262" y="41" width="2" height="13" fill="#000"/>
<rect x="236" y="53" width="28" height="1" fill="#000"/>
<rect x="237" y="54" width="26" height="1" fill="#000"/>
<rect x="249" y="53" width="2" height="2" fill="#fff"/>
<rect x="247" y="55" width="2" height="6" fill="#000"/>
<rect x="251" y="55" width="1" height="3" fill="#000"/>
<rect x="250" y="56" width="1" height="4" fill="#000"/>
<rect x="249" y="58" width="1" height="3" fill="#000"/>
<rect x="248" y="61" width="3" height="3" fill="#000"/>
<rect x="248" y="64" width="2" height="3" fill="#000"/>
<rect x="239" y="67" width="21" height="6" fill="#000"/>
<rect x="244" y="68" width="1" height="4" fill="#fff"/>
<rect x="253" y="68" width="1" height="4" fill="#fff"/>
<rect x="258" y="68" width="1" height="4" fill="#fff"/>
<rect x="343" y="74" width="26" height="11" fill="#fff"/>
<rect x="342" y="72" width="27" height="1" fill="#000"/>
<rect x="341" y="73" width="28" height="1" fill="#000"/>
<rect x="341" y="85" width="28" height="1" fill="#000"/>
<rect x="342" y="86" width="27" height="1" fill="#000"/>
<rect x="341" y="73" width="2" height="13" fill="#000"/>
<rect x="369" y="73" width="1" height="5" fill="#000"/>
<rect x="370" y="74" width="1" height="4" fill="#000"/>
<rect x="371" y="77" width="2" height="2" fill="#000"/>
<rect x="369" y="81" width="1" height="5" fill="#000"/>
<rect x="370" y="81" width="1" height="4" fill="#000"/>
<rect x="371" y="80" width="2" height="2" fill="#000"/>
<rect x="373" y="78" width="6" height="4" fill="#000"/>
<rect x="379" y="79" width="2" height="2" fill="#000"/>
<rect x="369" y="79" width="5" height="1" fill="#fff"/>
<rect x="369" y="78" width="2" height="3" fill="#fff"/>
<rect x="381" y="75" width="20" height="11" fill="#000"/>
<rect x="382" y="80" width="18" height="1" fill="#fff"/>
<rect x="382" y="76" width="1" height="9" fill="#fff"/>
<rect x="386" y="76" width="1" height="9" fill="#fff"/>
<rect x="391" y="76" width="1" height="9" fill="#fff"/>
<rect x="395" y="76" width="1" height="9" fill="#fff"/>
<rect x="384" y="77" width="1" height="2" fill="#fff"/>
<rect x="306" y="234" width="25" height="11" fill="#fff"/>
<rect x="305" y="232" width="26" height="1" fill="#000"/>
<rect x="304" y="233" width="27" height="1" fill="#000"/>
<rect x="304" y="245" width="27" height="1" fill="#000"/>
<rect x="305" y="246" width="26" height="1" fill="#000"/>
<rect x="304" y="233" width="2" height="13" fill="#000"/>
<rect x="331" y="233" width="1" height="5" fill="#000"/>
<rect x="332" y="234" width="1" height="4" fill="#000"/>
<rect x="333" y="237" width="2" height="2" fill="#000"/>
<rect x="331" y="241" width="1" height="5" fill="#000"/>
<rect x="332" y="241" width="1" height="4" fill="#000"/>
<rect x="333" y="240" width="2" height="2" fill="#000"/>
<rect x="335" y="238" width="6" height="4" fill="#000"/>
<rect x="341" y="239" width="3" height="2" fill="#000"/>
<rect x="331" y="239" width="5" height="1" fill="#fff"/>
<rect x="331" y="238" width="2" height="3" fill="#fff"/>
<rect x="344" y="236" width="11" height="6" fill="#000"/>
<rect x="345" y="237" width="1" height="4" fill="#fff"/>
<rect x="349" y="237" width="1" height="4" fill="#fff"/>
<rect x="344" y="243" width="11" height="6" fill="#000"/>
<rect x="345" y="244" width="1" height="4" fill="#fff"/>
<rect x="349" y="244" width="1" height="4" fill="#fff"/>
<rect x="313" y="251" width="26" height="14" fill="#fff"/>
<rect x="313" y="250" width="26" height="1" fill="#000"/>
<rect x="312" y="251" width="28" height="1" fill="#000"/>
<rect x="312" y="251" width="2" height="14" fill="#000"/>
<rect x="338" y="251" width="2" height="14" fill="#000"/>
<rect x="312" y="264" width="28" height="1" fill="#000"/>
<rect x="313" y="265" width="26" height="1" fill="#000"/>
<rect x="313" y="263" width="26" height="3" fill="#000"/>
<rect x="343" y="243" width="1" height="1" fill="#000"/>
<rect x="342" y="244" width="2" height="1" fill="#000"/>
<rect x="341" y="245" width="3" height="1" fill="#000"/>
<rect x="340" y="246" width="4" height="1" fill="#000"/>
<rect x="339" y="247" width="5" height="1" fill="#000"/>
<rect x="338" y="248" width="6" height="1" fill="#000"/>
<rect x="337" y="249" width="6" height="1" fill="#000"/>
<rect x="336" y="250" width="6" height="1" fill="#000"/>
<rect x="335" y="251" width="6" height="1" fill="#000"/>
<rect x="341" y="248" width="1" height="1" fill="#fff"/>
<rect x="340" y="249" width="1" height="1" fill="#fff"/>
<rect x="339" y="250" width="1" height="1" fill="#fff"/>
<rect x="623" y="254" width="25" height="11" fill="#fff"/>
<rect x="623" y="252" width="26" height="1" fill="#000"/>
<rect x="623" y="253" width="27" height="1" fill="#000"/>
<rect x="623" y="265" width="27" height="1" fill="#000"/>
<rect x="623" y="266" width="26" height="1" fill="#000"/>
<rect x="648" y="253" width="2" height="13" fill="#000"/>
<rect x="622" y="253" width="1" height="5" fill="#000"/>
<rect x="621" y="254" width="1" height="4" fill="#000"/>
<rect x="619" y="257" width="2" height="2" fill="#000"/>
<rect x="622" y="261" width="1" height="5" fill="#000"/>
<rect x="621" y="261" width="1" height="4" fill="#000"/>
<rect x="619" y="260" width="2" height="2" fill="#000"/>
<rect x="613" y="258" width="6" height="4" fill="#000"/>
<rect x="610" y="259" width="3" height="2" fill="#000"/>
<rect x="618" y="259" width="5" height="1" fill="#fff"/>
<rect x="621" y="258" width="2" height="3" fill="#fff"/>
<rect x="604" y="254" width="6" height="11" fill="#000"/>
<rect x="605" y="255" width="4" height="9" fill="#fff"/>
<rect x="29" y="255" width="25" height="11" fill="#fff"/>
<rect x="28" y="253" width="26" height="1" fill="#000"/>
<rect x="27" y="254" width="27" height="1" fill="#000"/>
<rect x="27" y="266" width="27" height="1" fill="#000"/>
<rect x="28" y="267" width="26" height="1" fill="#000"/>
<rect x="27" y="254" width="2" height="13" fill="#000"/>
<rect x="54" y="254" width="1" height="5" fill="#000"/>
<rect x="55" y="255" width="1" height="4" fill="#000"/>
<rect x="56" y="258" width="2" height="2" fill="#000"/>
<rect x="54" y="262" width="1" height="5" fill="#000"/>
<rect x="55" y="262" width="1" height="4" fill="#000"/>
<rect x="56" y="261" width="2" height="2" fill="#000"/>
<rect x="58" y="259" width="6" height="4" fill="#000"/>
<rect x="64" y="260" width="3" height="2" fill="#000"/>
<rect x="54" y="260" width="5" height="1" fill="#fff"/>
<rect x="54" y="259" width="2" height="3" fill="#fff"/>
<rect x="67" y="257" width="11" height="11" fill="#000"/>
<rect x="69" y="259" width="2" height="2" fill="#fff"/>
<rect x="68" y="262" width="9" height="1" fill="#fff"/>
<rect x="68" y="266" width="9" height="1" fill="#fff"/>
<rect x="72" y="258" width="1" height="8" fill="#fff"/>
<rect x="324" y="315" width="25" height="11" fill="#fff"/>
<rect x="323" y="313" width="26" height="1" fill="#000"/>
<rect x="322" y="314" width="27" height="1" fill="#000"/>
<rect x="322" y="326" width="27" height="1" fill="#000"/>
<rect x="323" y="327" width="26" height="1" fill="#000"/>
<rect x="322" y="314" width="2" height="13" fill="#000"/>
<rect x="349" y="314" width="1" height="5" fill="#000"/>
<rect x="350" y="315" width="1" height="4" fill="#000"/>
<rect x="351" y="318" width="2" height="2" fill="#000"/>
<rect x="349" y="322" width="1" height="5" fill="#000"/>
<rect x="350" y="322" width="1" height="4" fill="#000"/>
<rect x="351" y="321" width="2" height="2" fill="#000"/>
<rect x="353" y="319" width="6" height="4" fill="#000"/>
<rect x="359" y="320" width="4" height="2" fill="#000"/>
<rect x="349" y="320" width="5" height="1" fill="#fff"/>
<rect x="349" y="319" width="2" height="3" fill="#fff"/>
<rect x="363" y="314" width="54" height="15" fill="#000"/>
<rect x="364" y="315" width="52" height="13" fill="#fff"/>
<rect x="367" y="317" width="5" height="9" fill="#000"/>
<rect x="373" y="317" width="5" height="9" fill="#000"/>
<rect x="379" y="317" width="5" height="9" fill="#000"/>
<rect x="385" y="317" width="5" height="9" fill="#000"/>
<rect x="391" y="317" width="5" height="9" fill="#000"/>
<rect x="397" y="317" width="10" height="9" fill="#000"/>
<rect x="408" y="317" width="5" height="9" fill="#000"/>
<rect x="230" y="356" width="26" height="13" fill="#fff"/>
<rect x="230" y="355" width="26" height="1" fill="#000"/>
<rect x="229" y="356" width="28" height="1" fill="#000"/>
<rect x="229" y="356" width="2" height="13" fill="#000"/>
<rect x="255" y="356" width="2" height="13" fill="#000"/>
<rect x="229" y="368" width="28" height="1" fill="#000"/>
<rect x="230" y="369" width="26" height="1" fill="#000"/>
<rect x="242" y="368" width="1" height="4" fill="#fff"/>
<rect x="240" y="370" width="2" height="6" fill="#000"/>
<rect x="243" y="370" width="2" height="3" fill="#000"/>
<rect x="242" y="372" width="2" height="3" fill="#000"/>
<rect x="240" y="375" width="4" height="4" fill="#000"/>
<rect x="241" y="379" width="2" height="4" fill="#000"/>
<rect x="236" y="383" width="11" height="5" fill="#000"/>
<rect x="237" y="384" width="1" height="3" fill="#fff"/>
<rect x="241" y="384" width="1" height="3" fill="#fff"/>
<rect x="286" y="343" width="25" height="13" fill="#fff"/>
<rect x="286" y="342" width="25" height="1" fill="#000"/>
<rect x="285" y="343" width="27" height="1" fill="#000"/>
<rect x="285" y="343" width="2" height="13" fill="#000"/>
<rect x="310" y="343" width="2" height="13" fill="#000"/>
<rect x="285" y="355" width="27" height="1" fill="#000"/>
<rect x="286" y="356" width="25" height="1" fill="#000"/>
<rect x="297" y="355" width="2" height="2" fill="#fff"/>
<rect x="295" y="357" width="2" height="3" fill="#000"/>
<rect x="299" y="357" width="2" height="3" fill="#000"/>
<rect x="296" y="360" width="4" height="6" fill="#000"/>
<rect x="297" y="366" width="2" height="4" fill="#000"/>
<rect x="294" y="370" width="11" height="5" fill="#000"/>
<rect x="299" y="371" width="1" height="3" fill="#fff"/>
<rect x="303" y="371" width="1" height="3" fill="#fff"/>
<path d="M9,60h4v1h-4zM9,61h1v1h-1zM13,61h1v1h-1zM9,62h1v1h-1zM13,62h1v1h-1zM9,63h1v1h-1zM13,63h1v1h-1zM9,64h4v1h-4zM9,65h1v1h-1zM9,66h1v1h-1zM9,67h1v1h-1zM18,60h1v1h-1zM17,61h2v1h-2zM17,62h2v1h-2zM16,63h1v1h-1zM18,63h1v1h-1zM15,64h1v1h-1zM18,64h1v1h-1zM15,65h5v1h-5zM18,66h1v1h-1zM18,67h1v1h-1zM121,104h3v1h-3zM121,105h1v1h-1zM124,105h1v1h-1zM121,106h1v1h-1zM125,106h1v1h-1zM121,107h1v1h-1zM125,107h1v1h-1zM121,108h1v1h-1zM125,108h1v1h-1zM121,109h1v1h-1zM125,109h1v1h-1zM121,110h1v1h-1zM124,110h1v1h-1zM121,111h3v1h-3zM127,104h5v1h-5zM127,105h1v1h-1zM132,105h1v1h-1zM127,106h1v1h-1zM132,106h1v1h-1zM127,107h5v1h-5zM127,108h1v1h-1zM130,108h1v1h-1zM127,109h1v1h-1zM131,109h1v1h-1zM127,110h1v1h-1zM131,110h1v1h-1zM127,111h1v1h-1zM132,111h1v1h-1zM138,104h1v1h-1zM137,105h1v1h-1zM139,105h1v1h-1zM137,106h1v1h-1zM139,106h1v1h-1zM137,107h1v1h-1zM139,107h1v1h-1zM136,108h5v1h-5zM136,109h1v1h-1zM135,110h1v1h-1zM135,111h1v1h-1zM142,104h1v1h-1zM148,104h1v1h-1zM142,105h2v1h-2zM147,105h2v1h-2zM142,106h2v1h-2zM147,106h2v1h-2zM142,107h1v1h-1zM144,107h1v1h-1zM146,107h1v1h-1zM148,107h1v1h-1zM142,108h1v1h-1zM144,108h1v1h-1zM146,108h1v1h-1zM148,108h1v1h-1zM142,109h1v1h-1zM144,109h1v1h-1zM146,109h1v1h-1zM148,109h1v1h-1zM141,110h1v1h-1zM145,110h1v1h-1zM148,110h1v1h-1zM141,111h1v1h-1zM145,111h1v1h-1zM148,111h1v1h-1zM243,43h1v1h-1zM243,44h1v1h-1zM243,45h1v1h-1zM243,46h1v1h-1zM243,47h1v1h-1zM240,48h1v1h-1zM243,48h1v1h-1zM240,49h1v1h-1zM243,49h1v1h-1zM241,50h2v1h-2zM245,43h4v1h-4zM245,44h1v1h-1zM249,44h1v1h-1zM245,45h1v1h-1zM249,45h1v1h-1zM245,46h1v1h-1zM249,46h1v1h-1zM245,47h4v1h-4zM245,48h1v1h-1zM245,49h1v1h-1zM245,50h1v1h-1zM253,43h3v1h-3zM252,44h1v1h-1zM256,44h1v1h-1zM252,45h1v1h-1zM256,45h1v1h-1zM252,46h1v1h-1zM256,46h1v1h-1zM253,47h4v1h-4zM256,48h1v1h-1zM252,49h1v1h-1zM256,49h1v1h-1zM253,50h3v1h-3zM348,75h1v1h-1zM348,76h1v1h-1zM348,77h1v1h-1zM348,78h1v1h-1zM348,79h1v1h-1zM345,80h1v1h-1zM348,80h1v1h-1zM345,81h1v1h-1zM348,81h1v1h-1zM346,82h2v1h-2zM351,75h4v1h-4zM351,76h1v1h-1zM355,76h1v1h-1zM351,77h1v1h-1zM355,77h1v1h-1zM351,78h1v1h-1zM355,78h1v1h-1zM351,79h4v1h-4zM351,80h1v1h-1zM351,81h1v1h-1zM351,82h1v1h-1zM359,75h3v1h-3zM358,76h1v1h-1zM362,76h1v1h-1zM362,77h1v1h-1zM360,78h2v1h-2zM362,79h1v1h-1zM362,80h1v1h-1zM358,81h1v1h-1zM362,81h1v1h-1zM359,82h3v1h-3zM382,86h3v1h-3zM381,87h1v1h-1zM385,87h1v1h-1zM385,88h1v1h-1zM385,89h1v1h-1zM384,90h1v1h-1zM383,91h1v1h-1zM382,92h1v1h-1zM381,93h5v1h-5zM502,37h2v1h-2zM508,37h2v1h-2zM502,38h1v1h-1zM508,38h2v1h-2zM502,39h1v1h-1zM504,39h1v1h-1zM507,39h1v1h-1zM509,39h1v1h-1zM502,40h1v1h-1zM504,40h1v1h-1zM507,40h1v1h-1zM509,40h1v1h-1zM502,41h1v1h-1zM505,41h2v1h-2zM509,41h1v1h-1zM502,42h1v1h-1zM505,42h2v1h-2zM509,42h1v1h-1zM502,43h1v1h-1zM509,43h1v1h-1zM511,37h2v1h-2zM510,38h1v1h-1zM513,38h1v1h-1zM513,39h1v1h-1zM512,40h1v1h-1zM513,41h1v1h-1zM510,42h1v1h-1zM513,42h1v1h-1zM511,43h2v1h-2zM516,37h2v1h-2zM515,38h1v1h-1zM518,38h1v1h-1zM515,39h1v1h-1zM515,40h3v1h-3zM515,41h1v1h-1zM518,41h1v1h-1zM515,42h1v1h-1zM518,42h1v1h-1zM516,43h2v1h-2zM521,37h4v1h-4zM521,38h1v1h-1zM521,39h3v1h-3zM524,40h1v1h-1zM524,41h1v1h-1zM521,42h1v1h-1zM524,42h1v1h-1zM522,43h2v1h-2zM526,37h4v1h-4zM526,38h1v1h-1zM526,39h3v1h-3zM529,40h1v1h-1zM529,41h1v1h-1zM526,42h1v1h-1zM529,42h1v1h-1zM527,43h2v1h-2zM311,235h1v1h-1zM311,236h1v1h-1zM311,237h1v1h-1zM311,238h1v1h-1zM311,239h1v1h-1zM308,240h1v1h-1zM311,240h1v1h-1zM308,241h1v1h-1zM311,241h1v1h-1zM309,242h2v1h-2zM313,235h4v1h-4zM313,236h1v1h-1zM317,236h1v1h-1zM313,237h1v1h-1zM317,237h1v1h-1zM313,238h1v1h-1zM317,238h1v1h-1zM313,239h4v1h-4zM313,240h1v1h-1zM313,241h1v1h-1zM313,242h1v1h-1zM321,235h3v1h-3zM320,236h1v1h-1zM324,236h1v1h-1zM320,237h1v1h-1zM320,238h4v1h-4zM320,239h1v1h-1zM324,239h1v1h-1zM320,240h1v1h-1zM324,240h1v1h-1zM320,241h1v1h-1zM324,241h1v1h-1zM321,242h3v1h-3zM320,253h1v1h-1zM320,254h1v1h-1zM320,255h1v1h-1zM320,256h1v1h-1zM320,257h1v1h-1zM317,258h1v1h-1zM320,258h1v1h-1zM317,259h1v1h-1zM320,259h1v1h-1zM318,260h2v1h-2zM322,253h4v1h-4zM322,254h1v1h-1zM326,254h1v1h-1zM322,255h1v1h-1zM326,255h1v1h-1zM322,256h1v1h-1zM326,256h1v1h-1zM322,257h4v1h-4zM322,258h1v1h-1zM322,259h1v1h-1zM322,260h1v1h-1zM329,253h5v1h-5zM332,254h1v1h-1zM332,255h1v1h-1zM331,256h1v1h-1zM331,257h1v1h-1zM330,258h1v1h-1zM330,259h1v1h-1zM330,260h1v1h-1zM629,256h1v1h-1zM629,257h1v1h-1zM629,258h1v1h-1zM629,259h1v1h-1zM629,260h1v1h-1zM626,261h1v1h-1zM629,261h1v1h-1zM626,262h1v1h-1zM629,262h1v1h-1zM627,263h2v1h-2zM632,256h4v1h-4zM632,257h1v1h-1zM636,257h1v1h-1zM632,258h1v1h-1zM636,258h1v1h-1zM632,259h1v1h-1zM636,259h1v1h-1zM632,260h4v1h-4zM632,261h1v1h-1zM632,262h1v1h-1zM632,263h1v1h-1zM641,256h1v1h-1zM640,257h2v1h-2zM639,258h1v1h-1zM641,258h1v1h-1zM641,259h1v1h-1zM641,260h1v1h-1zM641,261h1v1h-1zM641,262h1v1h-1zM641,263h1v1h-1zM34,256h1v1h-1zM34,257h1v1h-1zM34,258h1v1h-1zM34,259h1v1h-1zM34,260h1v1h-1zM31,261h1v1h-1zM34,261h1v1h-1zM31,262h1v1h-1zM34,262h1v1h-1zM32,263h2v1h-2zM36,256h4v1h-4zM36,257h1v1h-1zM40,257h1v1h-1zM36,258h1v1h-1zM40,258h1v1h-1zM36,259h1v1h-1zM40,259h1v1h-1zM36,260h4v1h-4zM36,261h1v1h-1zM36,262h1v1h-1zM36,263h1v1h-1zM46,256h1v1h-1zM45,257h2v1h-2zM45,258h2v1h-2zM44,259h1v1h-1zM46,259h1v1h-1zM43,260h1v1h-1zM46,260h1v1h-1zM43,261h5v1h-5zM46,262h1v1h-1zM46,263h1v1h-1zM79,251h3v1h-3zM78,252h1v1h-1zM82,252h1v1h-1zM82,253h1v1h-1zM82,254h1v1h-1zM81,255h1v1h-1zM80,256h1v1h-1zM79,257h1v1h-1zM78,258h5v1h-5zM327,316h4v1h-4zM332,316h1v1h-1zM337,316h1v1h-1zM342,316h3v1h-3zM326,317h1v1h-1zM332,317h1v1h-1zM336,317h1v1h-1zM338,317h1v1h-1zM342,317h3v1h-3zM326,318h1v1h-1zM333,318h1v1h-1zM336,318h1v1h-1zM338,318h1v1h-1zM341,318h1v1h-1zM344,318h1v1h-1zM327,319h2v1h-2zM333,319h1v1h-1zM335,319h1v1h-1zM339,319h1v1h-1zM341,319h1v1h-1zM344,319h1v1h-1zM329,320h2v1h-2zM333,320h1v1h-1zM335,320h1v1h-1zM339,320h1v1h-1zM341,320h1v1h-1zM344,320h1v1h-1zM331,321h1v1h-1zM334,321h1v1h-1zM340,321h1v1h-1zM344,321h1v1h-1zM326,322h1v1h-1zM331,322h1v1h-1zM334,322h1v1h-1zM340,322h1v1h-1zM344,322h1v1h-1zM327,323h4v1h-4zM334,323h1v1h-1zM340,323h1v1h-1zM344,323h1v1h-1zM237,358h1v1h-1zM237,359h1v1h-1zM237,360h1v1h-1zM237,361h1v1h-1zM237,362h1v1h-1zM234,363h1v1h-1zM237,363h1v1h-1zM234,364h1v1h-1zM237,364h1v1h-1zM235,365h2v1h-2zM239,358h4v1h-4zM239,359h1v1h-1zM243,359h1v1h-1zM239,360h1v1h-1zM243,360h1v1h-1zM239,361h1v1h-1zM243,361h1v1h-1zM239,362h4v1h-4zM239,363h1v1h-1zM239,364h1v1h-1zM239,365h1v1h-1zM246,358h5v1h-5zM246,359h1v1h-1zM246,360h1v1h-1zM246,361h4v1h-4zM250,362h1v1h-1zM250,363h1v1h-1zM246,364h1v1h-1zM250,364h1v1h-1zM247,365h3v1h-3zM292,345h1v1h-1zM292,346h1v1h-1zM292,347h1v1h-1zM292,348h1v1h-1zM292,349h1v1h-1zM289,350h1v1h-1zM292,350h1v1h-1zM289,351h1v1h-1zM292,351h1v1h-1zM290,352h2v1h-2zM294,345h4v1h-4zM294,346h1v1h-1zM298,346h1v1h-1zM294,347h1v1h-1zM298,347h1v1h-1zM294,348h1v1h-1zM298,348h1v1h-1zM294,349h4v1h-4zM294,350h1v1h-1zM294,351h1v1h-1zM294,352h1v1h-1zM302,345h3v1h-3zM301,346h1v1h-1zM305,346h1v1h-1zM301,347h1v1h-1zM305,347h1v1h-1zM302,348h3v1h-3zM301,349h1v1h-1zM305,349h1v1h-1zM301,350h1v1h-1zM305,350h1v1h-1zM301,351h1v1h-1zM305,351h1v1h-1zM302,352h3v1h-3z" fill="#000"/>
<rect x="504" y="378" width="90" height="20" fill="#000"/>
<rect x="505" y="379" width="88" height="18" fill="#fff"/>
<rect x="506" y="381" width="86" height="3" fill="#000"/>
<rect x="506" y="387" width="86" height="9" fill="#000"/>
<rect x="507" y="382" width="4" height="1" fill="#fff"/>
<rect x="514" y="382" width="4" height="1" fill="#fff"/>
<rect x="522" y="382" width="4" height="1" fill="#fff"/>
<rect x="529" y="382" width="4" height="1" fill="#fff"/>
<rect x="536" y="382" width="4" height="1" fill="#fff"/>
<rect x="544" y="382" width="4" height="1" fill="#fff"/>
<rect x="551" y="382" width="4" height="1" fill="#fff"/>
<rect x="559" y="382" width="4" height="1" fill="#fff"/>
<rect x="566" y="382" width="4" height="1" fill="#fff"/>
<rect x="573" y="382" width="4" height="1" fill="#fff"/>
<rect x="581" y="382" width="4" height="1" fill="#fff"/>
<rect x="588" y="382" width="4" height="1" fill="#fff"/>
<rect x="512" y="382" width="1" height="2" fill="#fff"/>
<rect x="512" y="387" width="1" height="1" fill="#fff"/>
<rect x="519" y="382" width="1" height="2" fill="#fff"/>
<rect x="519" y="387" width="1" height="1" fill="#fff"/>
<rect x="527" y="382" width="1" height="2" fill="#fff"/>
<rect x="527" y="387" width="1" height="1" fill="#fff"/>
<rect x="534" y="382" width="1" height="2" fill="#fff"/>
<rect x="534" y="387" width="1" height="1" fill="#fff"/>
<rect x="542" y="382" width="1" height="2" fill="#fff"/>
<rect x="542" y="387" width="1" height="1" fill="#fff"/>
<rect x="549" y="382" width="1" height="2" fill="#fff"/>
<rect x="549" y="387" width="1" height="1" fill="#fff"/>
<rect x="556" y="382" width="1" height="2" fill="#fff"/>
<rect x="556" y="387" width="1" height="1" fill="#fff"/>
<rect x="564" y="382" width="1" height="2" fill="#fff"/>
<rect x="564" y="387" width="1" height="1" fill="#fff"/>
<rect x="571" y="382" width="1" height="2" fill="#fff"/>
<rect x="571" y="387" width="1" height="1" fill="#fff"/>
<rect x="579" y="382" width="1" height="2" fill="#fff"/>
<rect x="579" y="387" width="1" height="1" fill="#fff"/>
<rect x="586" y="382" width="1" height="2" fill="#fff"/>
<rect x="586" y="387" width="1" height="1" fill="#fff"/>
<rect x="508" y="389" width="1" height="7" fill="#fff"/>
<rect x="510" y="390" width="4" height="5" fill="#fff"/>
<rect x="516" y="389" width="1" height="7" fill="#fff"/>
<rect x="518" y="390" width="4" height="5" fill="#fff"/>
<rect x="523" y="389" width="1" height="7" fill="#fff"/>
<rect x="525" y="390" width="4" height="5" fill="#fff"/>
<rect x="530" y="389" width="1" height="7" fill="#fff"/>
<rect x="532" y="390" width="4" height="5" fill="#fff"/>
<rect x="538" y="389" width="1" height="7" fill="#fff"/>
<rect x="540" y="390" width="4" height="5" fill="#fff"/>
<rect x="546" y="389" width="1" height="7" fill="#fff"/>
<rect x="548" y="390" width="4" height="5" fill="#fff"/>
<rect x="553" y="389" width="1" height="7" fill="#fff"/>
<rect x="555" y="390" width="4" height="5" fill="#fff"/>
<rect x="560" y="389" width="1" height="7" fill="#fff"/>
<rect x="562" y="390" width="4" height="5" fill="#fff"/>
<rect x="568" y="389" width="1" height="7" fill="#fff"/>
<rect x="570" y="390" width="4" height="5" fill="#fff"/>
<rect x="576" y="389" width="1" height="7" fill="#fff"/>
<rect x="578" y="390" width="4" height="5" fill="#fff"/>
<rect x="583" y="389" width="1" height="7" fill="#fff"/>
<rect x="585" y="390" width="4" height="5" fill="#fff"/>
<rect x="505" y="389" width="1" height="8" fill="#000"/>
<rect x="592" y="389" width="1" height="8" fill="#000"/>
<rect x="505" y="390" width="1" height="2" fill="#fff"/>
<rect x="505" y="393" width="1" height="2" fill="#fff"/>
<rect x="592" y="390" width="1" height="2" fill="#fff"/>
<rect x="592" y="393" width="1" height="2" fill="#fff"/>
<rect x="618" y="344" width="24" height="30" fill="#000"/>
<rect x="637" y="340" width="5" height="37" fill="#000"/>
<rect x="640" y="338" width="2" height="41" fill="#000"/>
<rect x="616" y="349" width="2" height="20" fill="#000"/>
<rect x="613" y="351" width="4" height="7" fill="#000"/>
<rect x="614" y="352" width="2" height="5" fill="#fff"/>
<rect x="613" y="360" width="4" height="7" fill="#000"/>
<rect x="614" y="361" width="2" height="5" fill="#fff"/>
<rect x="617" y="357" width="1" height="3" fill="#fff"/>
</svg>
</body></html>
